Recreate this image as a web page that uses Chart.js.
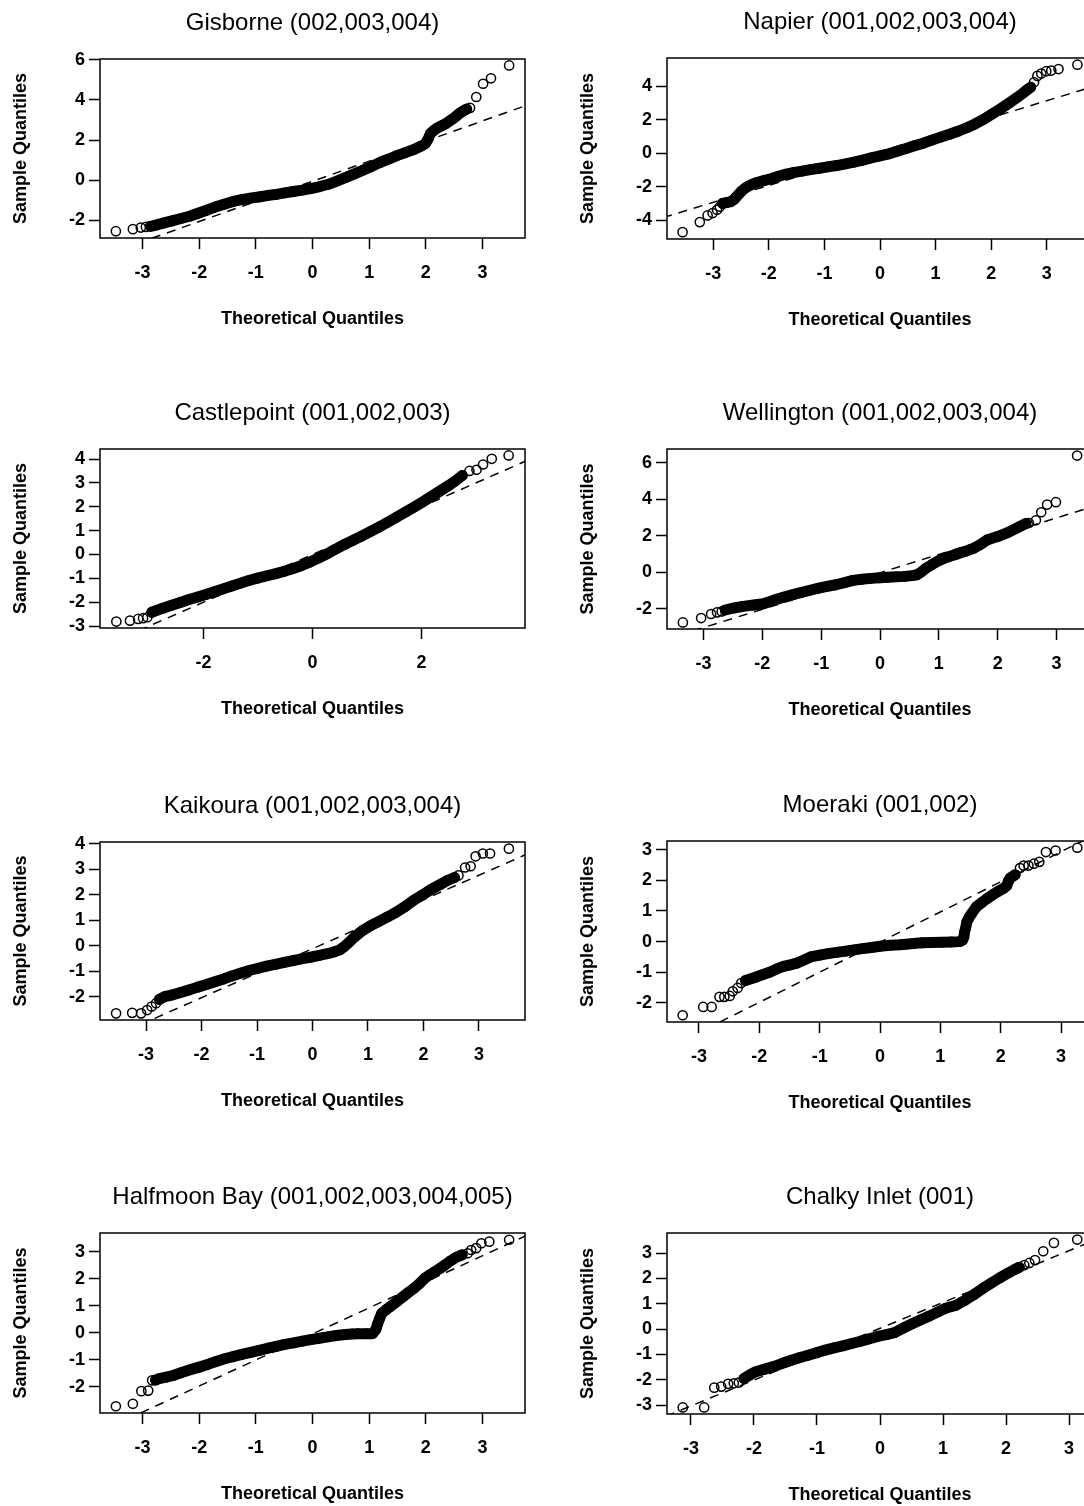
<!DOCTYPE html>
<html lang="en">
<head>
<meta charset="UTF-8">
<title>Normal Q-Q plots by site</title>
<style>
  html, body { margin: 0; padding: 0; background: #fff; }
  body { width: 1084px; height: 1506px; position: relative; overflow: hidden; }
  canvas { position: absolute; }
</style>
</head>
<body>
<script src="https://cdn.jsdelivr.net/npm/chart.js"></script>
<script>
// points are [theoretical quantile, sample quantile]
// "band" = the dense run of overlapping circles, "tails" = the circles you can see one by one
// "ref" = two points on the dashed qqline

const gisborneBand = [[-2.86,-2.29],[-2.78,-2.24],[-2.62,-2.12],[-2.48,-2.02],[-2.32,-1.9],[-2.17,-1.79],[-2.02,-1.64],[-1.87,-1.49],[-1.72,-1.33],[-1.56,-1.19],[-1.4,-1.05],[-1.25,-0.96],[-1.1,-0.89],[-0.95,-0.83],[-0.8,-0.76],[-0.64,-0.7],[-0.49,-0.63],[-0.34,-0.56],[-0.18,-0.49],[-0.03,-0.41],[0.13,-0.31],[0.28,-0.2],[0.43,-0.04],[0.58,0.13],[0.74,0.32],[0.89,0.5],[1.04,0.69],[1.19,0.88],[1.35,1.06],[1.5,1.24],[1.65,1.39],[1.8,1.54],[1.92,1.7],[1.99,1.82],[2.04,2.05],[2.08,2.32],[2.14,2.48],[2.2,2.6],[2.28,2.71],[2.35,2.81],[2.42,2.95],[2.48,3.06],[2.54,3.2],[2.6,3.34],[2.66,3.45],[2.72,3.54]];
const gisborneTails = [[-3.47,-2.53],[-3.17,-2.43],[-3.03,-2.35],[-2.94,-2.32],[2.78,3.6],[2.89,4.14],[3.01,4.8],[3.15,5.07],[3.47,5.71]];
const gisborneRef = [[-3.9,-3.95],[3.9,3.85]];

const napierBand = [[-2.83,-3.0],[-2.76,-2.95],[-2.68,-2.89],[-2.62,-2.75],[-2.59,-2.63],[-2.54,-2.45],[-2.49,-2.27],[-2.43,-2.1],[-2.37,-1.97],[-2.29,-1.85],[-2.21,-1.75],[-2.09,-1.64],[-1.96,-1.53],[-1.84,-1.4],[-1.71,-1.27],[-1.56,-1.16],[-1.4,-1.07],[-1.25,-0.98],[-1.09,-0.9],[-0.94,-0.82],[-0.78,-0.74],[-0.62,-0.64],[-0.47,-0.54],[-0.31,-0.41],[-0.16,-0.28],[0,-0.16],[0.16,-0.04],[0.31,0.12],[0.47,0.28],[0.62,0.44],[0.78,0.6],[0.93,0.78],[1.09,0.96],[1.25,1.13],[1.4,1.31],[1.56,1.52],[1.71,1.75],[1.87,2.03],[2.02,2.35],[2.18,2.68],[2.34,3.04],[2.47,3.34],[2.59,3.64],[2.65,3.8],[2.71,3.94]];
const napierTails = [[-3.55,-4.72],[-3.24,-4.12],[-3.1,-3.72],[-3.01,-3.58],[-2.93,-3.38],[-2.88,-3.2],[2.77,4.24],[2.83,4.62],[2.9,4.76],[2.99,4.9],[3.08,4.94],[3.21,5.03],[3.55,5.29]];
const napierRef = [[-3.9,-3.85],[3.9,4.05]];

const castlepointBand = [[-2.95,-2.42],[-2.76,-2.26],[-2.6,-2.14],[-2.44,-2.02],[-2.28,-1.9],[-2.12,-1.79],[-1.96,-1.68],[-1.8,-1.56],[-1.64,-1.44],[-1.48,-1.32],[-1.32,-1.2],[-1.17,-1.09],[-1.01,-0.99],[-0.85,-0.9],[-0.69,-0.81],[-0.53,-0.71],[-0.37,-0.6],[-0.21,-0.47],[-0.05,-0.32],[0.11,-0.15],[0.27,0.03],[0.43,0.23],[0.59,0.42],[0.75,0.6],[0.9,0.77],[1.06,0.96],[1.22,1.15],[1.38,1.35],[1.54,1.56],[1.7,1.77],[1.86,1.98],[2.02,2.2],[2.18,2.43],[2.34,2.66],[2.5,2.89],[2.62,3.08],[2.75,3.31]];
const castlepointTails = [[-3.6,-2.81],[-3.35,-2.77],[-3.2,-2.7],[-3.11,-2.67],[-3.03,-2.63],[2.88,3.5],[3.01,3.55],[3.13,3.77],[3.29,4.01],[3.6,4.15]];
const castlepointRef = [[-4,-4],[4,4]];

const wellingtonBand = [[-2.63,-2.06],[-2.48,-1.95],[-2.33,-1.86],[-2.15,-1.79],[-1.98,-1.72],[-1.8,-1.52],[-1.63,-1.35],[-1.48,-1.22],[-1.34,-1.1],[-1.19,-0.98],[-1.04,-0.86],[-0.9,-0.77],[-0.75,-0.68],[-0.6,-0.56],[-0.46,-0.44],[-0.31,-0.38],[-0.16,-0.33],[0,-0.3],[0.13,-0.27],[0.28,-0.24],[0.42,-0.22],[0.55,-0.18],[0.63,-0.13],[0.7,0.02],[0.77,0.2],[0.89,0.44],[1.01,0.66],[1.15,0.84],[1.3,0.99],[1.45,1.15],[1.6,1.33],[1.72,1.55],[1.83,1.79],[2.01,1.97],[2.18,2.19],[2.36,2.48],[2.48,2.67]];
const wellingtonTails = [[-3.35,-2.74],[-3.04,-2.5],[-2.87,-2.28],[-2.77,-2.19],[-2.69,-2.14],[2.53,2.7],[2.65,2.85],[2.74,3.29],[2.84,3.71],[2.99,3.84],[3.35,6.39]];
const wellingtonRef = [[-3.7,-3.72],[3.7,3.68]];

const kaikouraBand = [[-2.76,-2.1],[-2.65,-1.98],[-2.53,-1.93],[-2.38,-1.83],[-2.22,-1.73],[-2.07,-1.62],[-1.91,-1.52],[-1.76,-1.41],[-1.6,-1.3],[-1.45,-1.18],[-1.29,-1.07],[-1.14,-0.97],[-0.98,-0.88],[-0.83,-0.8],[-0.67,-0.73],[-0.51,-0.65],[-0.35,-0.58],[-0.2,-0.51],[-0.04,-0.45],[0.12,-0.38],[0.27,-0.31],[0.39,-0.24],[0.49,-0.16],[0.57,-0.04],[0.64,0.1],[0.76,0.35],[0.89,0.58],[1.04,0.78],[1.2,0.96],[1.36,1.14],[1.51,1.32],[1.67,1.54],[1.82,1.78],[1.98,1.99],[2.13,2.2],[2.29,2.39],[2.44,2.57],[2.56,2.68]];
const kaikouraTails = [[-3.54,-2.65],[-3.25,-2.63],[-3.09,-2.65],[-2.98,-2.52],[-2.9,-2.38],[-2.82,-2.25],[2.63,2.76],[2.75,3.07],[2.85,3.12],[2.94,3.51],[3.07,3.62],[3.2,3.62],[3.54,3.81]];
const kaikouraRef = [[-3.9,-3.86],[3.9,3.63]];

const moerakiBand = [[-2.23,-1.27],[-2.06,-1.16],[-1.95,-1.08],[-1.83,-1.0],[-1.72,-0.9],[-1.6,-0.81],[-1.49,-0.76],[-1.38,-0.7],[-1.26,-0.6],[-1.15,-0.5],[-1.0,-0.44],[-0.86,-0.39],[-0.72,-0.35],[-0.57,-0.31],[-0.43,-0.27],[-0.29,-0.23],[-0.14,-0.19],[0,-0.15],[0.17,-0.12],[0.34,-0.1],[0.52,-0.07],[0.69,-0.04],[0.86,-0.03],[1.03,-0.02],[1.18,-0.01],[1.32,0],[1.37,0.05],[1.39,0.15],[1.4,0.3],[1.42,0.45],[1.44,0.65],[1.48,0.8],[1.52,0.92],[1.6,1.14],[1.69,1.28],[1.78,1.41],[1.87,1.53],[1.95,1.63],[2.05,1.74],[2.1,1.82],[2.13,1.98],[2.16,2.08],[2.24,2.18]];
const moerakiTails = [[-3.27,-2.4],[-2.93,-2.13],[-2.79,-2.13],[-2.66,-1.8],[-2.58,-1.8],[-2.49,-1.77],[-2.44,-1.62],[-2.36,-1.51],[-2.3,-1.35],[2.32,2.4],[2.38,2.48],[2.46,2.48],[2.55,2.54],[2.64,2.6],[2.75,2.92],[2.91,2.97],[3.27,3.06]];
const moerakiRef = [[-3.6,-3.55],[3.6,3.52]];

const halfmoonBand = [[-2.77,-1.76],[-2.71,-1.71],[-2.58,-1.65],[-2.46,-1.59],[-2.31,-1.48],[-2.16,-1.38],[-2.0,-1.28],[-1.85,-1.18],[-1.7,-1.07],[-1.55,-0.97],[-1.4,-0.89],[-1.25,-0.81],[-1.09,-0.73],[-0.94,-0.66],[-0.79,-0.58],[-0.64,-0.51],[-0.49,-0.44],[-0.33,-0.38],[-0.18,-0.32],[-0.03,-0.26],[0.12,-0.21],[0.27,-0.16],[0.42,-0.11],[0.58,-0.07],[0.7,-0.05],[0.8,-0.04],[0.95,-0.04],[1.06,-0.04],[1.12,0.12],[1.15,0.33],[1.19,0.55],[1.22,0.71],[1.3,0.85],[1.37,0.96],[1.49,1.15],[1.61,1.35],[1.7,1.5],[1.79,1.64],[1.89,1.82],[1.98,2.01],[2.07,2.14],[2.16,2.26],[2.25,2.38],[2.34,2.51],[2.43,2.65],[2.52,2.77],[2.64,2.88]];
const halfmoonTails = [[-3.47,-2.73],[-3.17,-2.64],[-3.02,-2.17],[-2.9,-2.15],[-2.83,-1.77],[2.74,2.94],[2.8,3.06],[2.89,3.13],[2.98,3.31],[3.12,3.37],[3.47,3.44]];
const halfmoonRef = [[-3.8,-3.72],[3.8,3.62]];

const chalkyBand = [[-2.16,-1.95],[-2.06,-1.8],[-1.97,-1.68],[-1.83,-1.58],[-1.69,-1.48],[-1.56,-1.36],[-1.42,-1.24],[-1.28,-1.13],[-1.14,-1.03],[-1.0,-0.93],[-0.87,-0.83],[-0.73,-0.74],[-0.59,-0.66],[-0.45,-0.57],[-0.32,-0.49],[-0.18,-0.39],[-0.04,-0.29],[0.1,-0.22],[0.23,-0.14],[0.37,0.04],[0.51,0.21],[0.64,0.36],[0.78,0.51],[0.92,0.68],[1.05,0.83],[1.2,0.93],[1.35,1.14],[1.49,1.36],[1.63,1.6],[1.77,1.82],[1.9,2.02],[2.04,2.22],[2.13,2.34],[2.21,2.44]];
const chalkyTails = [[-3.13,-3.09],[-2.79,-3.09],[-2.63,-2.31],[-2.52,-2.27],[-2.41,-2.16],[-2.32,-2.14],[-2.24,-2.11],[2.29,2.52],[2.37,2.61],[2.46,2.72],[2.59,3.07],[2.76,3.4],[3.13,3.53]];
const chalkyRef = [[-3.4,-3.44],[3.4,3.5]];

const titles = ['Gisborne (002,003,004)', 'Napier (001,002,003,004)', 'Castlepoint (001,002,003)', 'Wellington (001,002,003,004)',
                'Kaikoura (001,002,003,004)', 'Moeraki (001,002)', 'Halfmoon Bay (001,002,003,004,005)', 'Chalky Inlet (001)'];

const xTicksAll = [-3, -2, -1, 0, 1, 2, 3];
const xTicksWide = [-2, 0, 2];
const yTicksGis = [-2, 0, 2, 4, 6];
const yTicksNap = [-4, -2, 0, 2, 4];
const yTicksCas = [-3, -2, -1, 0, 1, 2, 3, 4];
const yTicksWel = [-2, 0, 2, 4, 6];
const yTicksKai = [-2, -1, 0, 1, 2, 3, 4];
const yTicksMoe = [-2, -1, 0, 1, 2, 3];
const yTicksHal = [-2, -1, 0, 1, 2, 3];
const yTicksCha = [-3, -2, -1, 0, 1, 2, 3];

// plot boxes on the page: [left, top, right, bottom], and axis ranges
const panels = [
  { band: gisborneBand, tails: gisborneTails, ref: gisborneRef, xt: xTicksAll, yt: yTicksGis, box: [100, 59, 525, 238], xr: [-3.75, 3.75], yr: [-2.87, 6.03] },
  { band: napierBand, tails: napierTails, ref: napierRef, xt: xTicksAll, yt: yTicksNap, box: [667, 58, 1093, 239], xr: [-3.83, 3.83], yr: [-5.13, 5.69] },
  { band: castlepointBand, tails: castlepointTails, ref: castlepointRef, xt: xTicksWide, yt: yTicksCas, box: [100, 449, 525, 628], xr: [-3.9, 3.9], yr: [-3.08, 4.42] },
  { band: wellingtonBand, tails: wellingtonTails, ref: wellingtonRef, xt: xTicksAll, yt: yTicksWel, box: [667, 449, 1093, 629], xr: [-3.62, 3.62], yr: [-3.1, 6.75] },
  { band: kaikouraBand, tails: kaikouraTails, ref: kaikouraRef, xt: xTicksAll, yt: yTicksKai, box: [100, 842, 525, 1020], xr: [-3.83, 3.83], yr: [-2.91, 4.07] },
  { band: moerakiBand, tails: moerakiTails, ref: moerakiRef, xt: xTicksAll, yt: yTicksMoe, box: [667, 841, 1093, 1022], xr: [-3.53, 3.53], yr: [-2.62, 3.28] },
  { band: halfmoonBand, tails: halfmoonTails, ref: halfmoonRef, xt: xTicksAll, yt: yTicksHal, box: [100, 1233, 525, 1413], xr: [-3.75, 3.75], yr: [-2.98, 3.69] },
  { band: chalkyBand, tails: chalkyTails, ref: chalkyRef, xt: xTicksAll, yt: yTicksCha, box: [667, 1233, 1093, 1414], xr: [-3.38, 3.38], yr: [-3.35, 3.79] }
];

const FONT = '"Liberation Sans", Arial, Helvetica, sans-serif';
Chart.defaults.font.family = FONT;
Chart.defaults.color = '#000';

const LEFT = 100, TOP = 60, RIGHT = 20, BOTTOM = 92;

const toPts = arr => arr.map(([x, y]) => ({ x: x, y: y }));

// box round the plot region + the panel title over its middle
const framePlugin = {
  id: 'frame',
  afterDatasetsDraw(chart, args, opts) {
    const a = chart.chartArea;
    const ctx = chart.ctx;
    ctx.save();
    ctx.strokeStyle = '#000';
    ctx.lineWidth = 1.5;
    ctx.strokeRect(a.left, a.top, a.right - a.left, a.bottom - a.top);
    ctx.fillStyle = '#000';
    ctx.font = '24px ' + FONT;
    ctx.textAlign = 'center';
    ctx.textBaseline = 'middle';
    ctx.fillText(opts.title, (a.left + a.right) / 2, a.top - 36);
    ctx.restore();
  }
};

function axisGrid() {
  return { drawOnChartArea: false, drawTicks: true, tickLength: 11, tickColor: '#000', tickWidth: 1.5 };
}

panels.forEach((p, i) => {
  const [l, t, r, b] = p.box;
  const cv = document.createElement('canvas');
  cv.width = (r - l) + LEFT + RIGHT;
  cv.height = TOP + (b - t) + BOTTOM;
  cv.style.left = (l - LEFT) + 'px';
  cv.style.top = (t - TOP) + 'px';
  document.body.appendChild(cv);

  const circle = { pointRadius: 4.6, pointBorderWidth: 1.5, pointBorderColor: '#000', pointBackgroundColor: 'rgba(0,0,0,0)' };

  new Chart(cv, {
    type: 'scatter',
    data: {
      datasets: [
        Object.assign({ data: toPts(p.band), showLine: true, borderColor: '#000', borderWidth: 11,
          borderJoinStyle: 'round', borderCapStyle: 'round' }, circle),
        Object.assign({ data: toPts(p.tails) }, circle),
        { data: toPts(p.ref), showLine: true, borderColor: '#000', borderWidth: 1.5,
          borderDash: [9, 7], pointRadius: 0, clip: 0 }
      ]
    },
    options: {
      responsive: false,
      animation: false,
      events: [],
      layout: { padding: { top: TOP, right: RIGHT, left: 0, bottom: 0 } },
      plugins: {
        legend: { display: false },
        tooltip: { enabled: false },
        frame: { title: titles[i] }
      },
      scales: {
        x: {
          type: 'linear', min: p.xr[0], max: p.xr[1],
          afterFit: s => { s.height = BOTTOM; },
          afterBuildTicks: s => { s.ticks = p.xt.map(v => ({ value: v })); },
          grid: axisGrid(),
          border: { display: false },
          ticks: { autoSkip: false, maxRotation: 0, padding: 13, color: '#000',
                   font: { size: 18, weight: 'bold' }, callback: v => String(v) },
          title: { display: true, text: 'Theoretical Quantiles', color: '#000',
                   font: { size: 18, weight: 'bold' }, padding: { top: 0, bottom: 0 } }
        },
        y: {
          type: 'linear', min: p.yr[0], max: p.yr[1],
          afterFit: s => { s.width = LEFT; },
          afterBuildTicks: s => { s.ticks = p.yt.map(v => ({ value: v })); },
          grid: axisGrid(),
          border: { display: false },
          ticks: { autoSkip: false, padding: 4, color: '#000',
                   font: { size: 18, weight: 'bold' }, callback: v => String(v) },
          title: { display: true, text: 'Sample Quantiles', color: '#000',
                   font: { size: 18, weight: 'bold' }, padding: { top: 10, bottom: 0 } }
        }
      }
    },
    plugins: [framePlugin]
  });
});
</script>
</body>
</html>
